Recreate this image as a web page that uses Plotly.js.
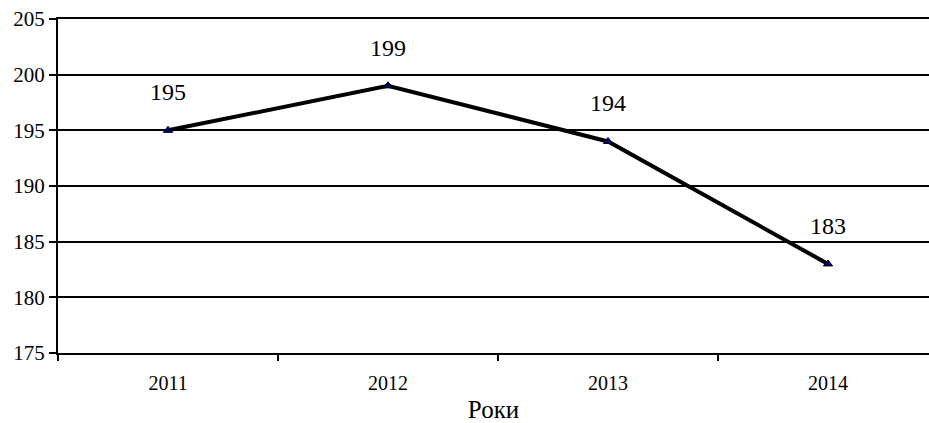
<!DOCTYPE html>
<html><head><meta charset="utf-8">
<script src="https://cdn.plot.ly/plotly-3.0.1.min.js"></script>
<style>html,body{margin:0;padding:0;background:#fff;overflow:hidden}#chart{width:929px;height:423px}</style>
</head><body><div id="chart"></div>
<script>
var years = ['2011', '2012', '2013', '2014'];
var values = [195, 199, 194, 183];
var yTicks = [175, 180, 185, 190, 195, 200, 205];
var xTitle = 'Роки';

var serif = 'Liberation Serif';
var trace = {
  x: years, y: values, type: 'scatter', mode: 'lines+markers',
  line: {color: '#000', width: 4},
  marker: {symbol: 'triangle-up', size: 8, color: '#000080', line: {color: '#000', width: 1}},
  hoverinfo: 'skip'
};
var annotations = years.map(function (c, i) {
  return {x: i, y: values[i], xref: 'x', yref: 'y', text: String(values[i]), showarrow: false, yshift: 38,
    font: {family: serif, size: 24, color: '#000'}};
});
var layout = {
  width: 929, height: 423,
  margin: {l: 58, r: 0, t: 19, b: 70},
  paper_bgcolor: '#fff', plot_bgcolor: '#fff',
  showlegend: false,
  font: {family: serif, color: '#000'},
  xaxis: {
    type: 'category', range: [-0.5, 3.459], tickson: 'boundaries',
    ticks: 'outside', ticklen: 6, tickwidth: 2, tickcolor: '#000',
    showgrid: false, showline: true, mirror: true, linecolor: '#000', linewidth: 2, zeroline: false,
    tickfont: {family: serif, size: 20, color: '#000'}, ticklabelstandoff: 11,
    title: {text: xTitle, font: {family: serif, size: 25, color: '#000'}, standoff: 8}
  },
  yaxis: {
    range: [175, 205], tickvals: yTicks, ticktext: yTicks.map(String),
    ticks: 'outside', ticklen: 7, tickwidth: 2, tickcolor: '#000',
    showgrid: true, gridcolor: '#000', gridwidth: 2,
    showline: true, linecolor: '#000', linewidth: 2, zeroline: false,
    tickfont: {family: serif, size: 21, color: '#000'}
  },
  annotations: annotations
};
Plotly.newPlot('chart', [trace], layout, {displayModeBar: false, staticPlot: true});
</script></body></html>
